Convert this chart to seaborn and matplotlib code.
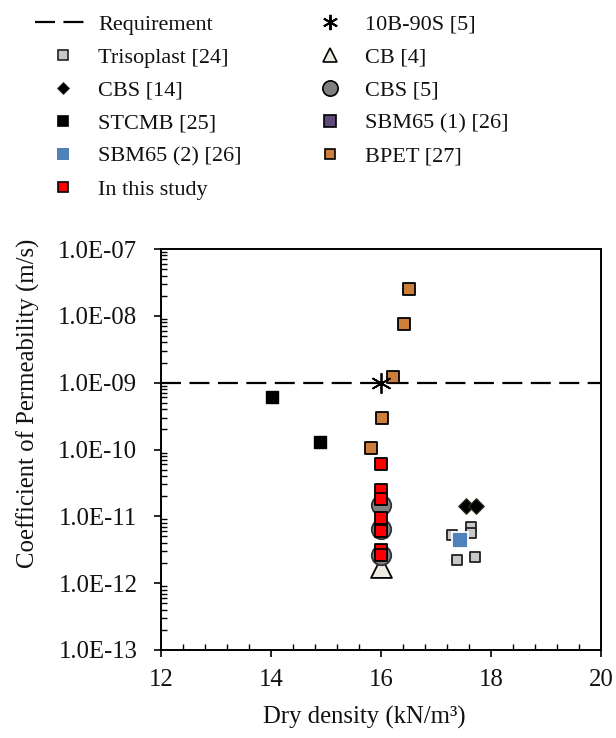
import numpy as np
import pandas as pd
import matplotlib
matplotlib.use("Agg")
import matplotlib.pyplot as plt
import seaborn as sns
from matplotlib.lines import Line2D
from matplotlib.ticker import FixedLocator, LogLocator, MultipleLocator, NullFormatter

# ---------------- data ----------------
requirement = 1.0e-9

triso_x = [17.63, 17.63, 17.29, 17.38, 17.71]
triso_y = [7.0e-12, 5.6e-12, 5.2e-12, 2.2e-12, 2.5e-12]

cbs14_x = [17.55, 17.72]
cbs14_y = [1.45e-11, 1.45e-11]

stcmb_x = [14.01, 14.89]
stcmb_y = [6.1e-10, 1.3e-10]

sbm2_x = [17.43]
sbm2_y = [4.5e-12]

sbm1_x = [17.43]
sbm1_y = [4.5e-12]

study_x = [16.0, 16.0, 16.0, 16.0, 16.0, 16.0, 16.0]
study_y = [6.0e-11, 2.5e-11, 1.8e-11, 9.3e-12, 6.0e-12, 3.1e-12, 2.6e-12]

b10_x = [16.0]
b10_y = [1.0e-9]

cb4_x = [16.0]
cb4_y = [1.75e-12]

cbs5_x = [16.0, 16.0, 16.0]
cbs5_y = [1.48e-11, 6.4e-12, 2.6e-12]

bpet_x = [16.51, 16.41, 16.22, 16.01, 15.81]
bpet_y = [2.5e-8, 7.6e-9, 1.2e-9, 3.0e-10, 1.06e-10]

y_ticks = [1e-13, 1e-12, 1e-11, 1e-10, 1e-9, 1e-8, 1e-7]
y_tick_labels = ["1.0E-13", "1.0E-12", "1.0E-11", "1.0E-10", "1.0E-09", "1.0E-08", "1.0E-07"]
x_ticks = [12, 14, 16, 18, 20]

# ---------------- style ----------------
sns.set_style("ticks")
plt.rcParams["font.family"] = ["Liberation Serif", "DejaVu Serif"]
FS = 17.8
LFS = 16

fig = plt.figure(figsize=(6.16, 7.38), dpi=100)
ax = fig.add_axes([161 / 616, 1 - 650 / 738, 440 / 616, 401 / 738])

BPET = "#CD7F3A"
PURPLE = "#604A7B"
BLUE = "#4F81BD"
TRI_FILL = "#EEECE1"
GRAY = "#808080"
LGRAY = "#C8C8C8"

ax.axhline(requirement, color="black", lw=1.6, ls=(0, (9, 3.8)), zorder=1)

def sc(x, y, marker, s, fc, ec, lw, z):
    df = pd.DataFrame({"x": x, "y": y})
    sns.scatterplot(data=df, x="x", y="y", ax=ax, marker=marker, s=s,
                    color=fc, edgecolor=ec, linewidth=lw, zorder=z, legend=False)

sc(stcmb_x, stcmb_y, "s", 8.5 ** 2, "black", "black", 1.0, 3)
sc(triso_x, triso_y, "s", 7.5 ** 2, LGRAY, "#222222", 1.3, 3)
sc(sbm1_x, sbm1_y, "s", 8 ** 2, PURPLE, "black", 1.0, 3)
sc(sbm2_x, sbm2_y, "s", 11 ** 2, BLUE, "white", 1.3, 4)
sc(cbs14_x, cbs14_y, "D", 8 ** 2, "black", "#333322", 0.8, 3)
sc(cb4_x, cb4_y, "^", 15 ** 2, TRI_FILL, "black", 1.3, 3)
sc(cbs5_x, cbs5_y, "o", 14 ** 2, GRAY, "#333333", 1.3, 4)
sc(study_x, study_y, "s", 8 ** 2, "red", "black", 1.3, 5)
sc(bpet_x, bpet_y, "s", 8 ** 2, BPET, "black", 1.3, 5)
df10 = pd.DataFrame({"x": b10_x, "y": b10_y})
sns.scatterplot(data=df10, x="x", y="y", ax=ax, marker=(6, 2, 0), s=14 ** 2,
                color="black", linewidth=1.3, zorder=6, legend=False)

# ---------------- axes ----------------
ax.set_yscale("log")
ax.set_ylim(1e-13, 1e-7)
ax.set_xlim(12, 20)
ax.yaxis.set_major_locator(FixedLocator(y_ticks))
ax.set_yticklabels(y_tick_labels)
ax.yaxis.set_minor_locator(LogLocator(base=10, subs=np.arange(2, 10)))
ax.yaxis.set_minor_formatter(NullFormatter())
ax.xaxis.set_major_locator(FixedLocator(x_ticks))
ax.set_xticklabels([str(v) for v in x_ticks])
ax.xaxis.set_minor_locator(MultipleLocator(0.4))

ax.tick_params(which="major", direction="out", length=5, width=1.2, colors="black",
               labelsize=FS, labelcolor="#111111")
ax.tick_params(axis="y", which="major", pad=12)
ax.tick_params(axis="x", which="major", pad=9)
ax.tick_params(which="minor", direction="in", length=4, width=1.0, colors="black")
for sp in ax.spines.values():
    sp.set_visible(True)
    sp.set_color("black")
    sp.set_linewidth(1.4)

ax.set_xlabel("Dry density (kN/m³)", fontsize=FS, color="#111111")
ax.set_ylabel("Coefficient of Permeability (m/s)", fontsize=FS, color="#111111")
ax.xaxis.set_label_coords((364 - 161) / 440, (650 - 706) / 401)
ax.yaxis.set_label_coords((40 - 161) / 440, (650 - 403) / 401)

# ---------------- legend ----------------
def mk(marker, ms, fc, ec, mew=1.2):
    return Line2D([], [], ls="none", marker=marker, ms=ms, mfc=fc, mec=ec, mew=mew)

left_h = [
    Line2D([], [], color="black", lw=1.6, ls=(0, (9, 3.8))),
    mk("s", 7, LGRAY, "#222222"),
    mk("D", 6, "black", "#333322", 0.6),
    mk("s", 7.5, "black", "black"),
    mk("s", 9, BLUE, BLUE, 0),
    mk("s", 7, "red", "black"),
]
left_l = ["Requirement", "Trisoplast [24]", "CBS [14]", "STCMB [25]",
          "SBM65 (2) [26]", "In this study"]
right_h = [
    Line2D([], [], ls="none", marker=(6, 2, 0), ms=11, color="black", mew=1.4),
    mk("^", 10, TRI_FILL, "black"),
    mk("o", 11, GRAY, "black"),
    mk("s", 8, PURPLE, "black"),
    mk("s", 7, BPET, "black"),
]
right_l = ["10B-90S [5]", "CB [4]", "CBS [5]", "SBM65 (1) [26]", "BPET [27]"]

common = dict(frameon=False, fontsize=LFS, handlelength=2.5, handletextpad=0.35,
              labelspacing=0.56, borderpad=0, borderaxespad=0, loc="upper left",
              labelcolor="#111111")
fig.legend(left_h, left_l, bbox_to_anchor=(35 / 616, 1 - 14 / 738), **common)
fig.legend(right_h, right_l, bbox_to_anchor=(302 / 616, 1 - 14 / 738), **common)

fig.savefig("out.png", dpi=100)
